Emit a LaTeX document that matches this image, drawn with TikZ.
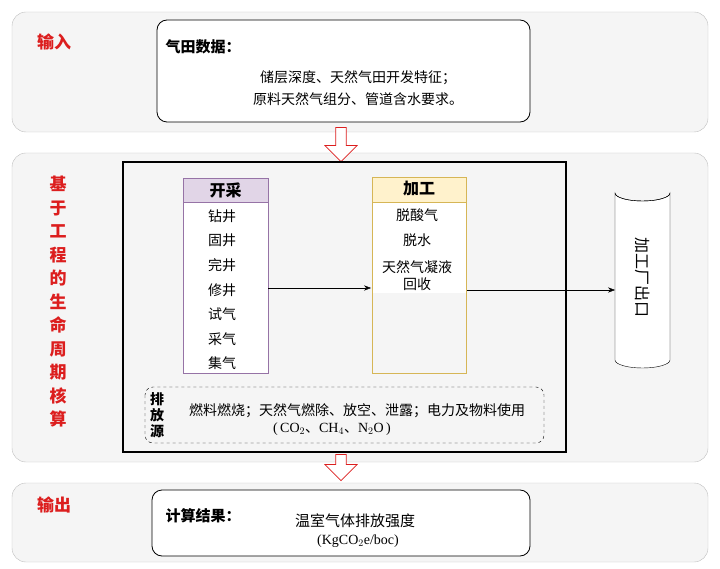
\documentclass[tikz,border=0pt]{standalone}
\usepackage{fontspec}
\setmainfont{Noto Sans CJK SC}
\newfontfamily\serifnum{Liberation Serif}
\newfontfamily\cjk{Noto Sans CJK SC}
\usetikzlibrary{shapes.geometric,shapes.arrows,arrows.meta}
\definecolor{bandgray}{RGB}{245,245,245}
\definecolor{bandline}{RGB}{190,190,190}
\definecolor{minefill}{RGB}{225,213,231}
\definecolor{mineline}{RGB}{150,115,166}
\definecolor{procfill}{RGB}{255,242,204}
\definecolor{procline}{RGB}{214,182,86}
\definecolor{titlered}{RGB}{220,30,30}
\begin{document}
\begin{tikzpicture}[x=1pt,y=-1pt,
  band/.style={draw=bandline, fill=bandgray, rounded corners=14pt},
  card/.style={draw=black, fill=white, rounded corners=10pt, thick},
  redtitle/.style={text=titlered, font=\bfseries\fontsize{17}{19}\selectfont},
  item/.style={font=\fontsize{14}{16}\selectfont},
  downarrow/.style={single arrow, draw=titlered, fill=white, thick, shape border rotate=270,
    minimum width=32pt, single arrow head extend=5pt, single arrow tip angle=90, inner sep=2pt}]
\useasboundingbox (0,0) rectangle (720,569);

% Bands
\draw[band] (12,12) rectangle (708,132);
\draw[band] (12,153) rectangle (708,462);
\draw[band] (12,483) rectangle (708,562);
\node[redtitle] (intitle) at (54,42) {输入};
\node[redtitle] (outtitle) at (54,505) {输出};
\node[redtitle, align=center, font=\bfseries\fontsize{17}{23.5}\selectfont] (lcatitle) at (58,302)
  {基\\于\\工\\程\\的\\生\\命\\周\\期\\核\\算};

% Input
\draw[card] (157,20) rectangle (530,122);
\node[font=\bfseries\fontsize{15}{17}\selectfont, anchor=west] (gastitle) at (162,47) {气田数据：};
\node[item, align=center, font=\fontsize{14}{22}\selectfont] (gasdata) at (358,88) {储层深度、天然气田开发特征；\\原料天然气组分、管道含水要求。};

% Arrows between bands
\node[downarrow, minimum height=34pt] (arrowa) at (341,142) {};
\node[downarrow, minimum height=26pt] (arrowb) at (341,465) {};

% Core box
\draw[very thick] (123,162) rectangle (566,452);

% Mining
\draw[draw=mineline, fill=white] (183,178) rectangle (268,373);
\draw[draw=mineline, fill=minefill] (183,178) rectangle (268,202);
\node[font=\bfseries\fontsize{16}{18}\selectfont] (minetitle) at (225.5,190) {开采};
\foreach \t [count=\i] in {钻井,固井,完井,修井,试气,采气,集气}
  \node[item] (mine\i) at (222,216+24.6*\i-24.6) {\t};

% Processing
\draw[draw=procline, fill=bandgray] (372,177) rectangle (466,373);
\fill[white] (372.5,202) rectangle (465.5,293);
\draw[draw=procline, fill=procfill] (372,177) rectangle (466,202);
\node[font=\bfseries\fontsize{16}{18}\selectfont] (proctitle) at (419,189) {加工};
\node[item] (proc1) at (417,215) {脱酸气};
\node[item] (proc2) at (417,240) {脱水};
\node[item, align=center, font=\fontsize{14}{17}\selectfont] (proc3) at (417,276) {天然气凝液\\回收};

\coordinate (minee) at (268,288);
\coordinate (procw) at (371,288);
\coordinate (proce) at (467,290);
\draw[-{Stealth[length=7pt]}] (minee) -- (procw);

% Plant outlet
\draw[fill=white] (615,193) -- (615,360) arc[start angle=180, end angle=360, x radius=27.5, y radius=-8]
  -- (670,193) arc[start angle=0, end angle=-180, x radius=27.5, y radius=-8] -- cycle;
\draw (615,193) arc[start angle=180, end angle=360, x radius=27.5, y radius=-8];
\coordinate (outletw) at (615,290);
\node[rotate=-90, font=\fontsize{16}{18}\selectfont] (outlet) at (642.5,278) {加工厂出口};
\draw[-{Stealth[length=7pt]}] (proce) -- (outletw);

% Emission sources
\draw[dashed, rounded corners=8pt] (145,387) rectangle (544,443);
\node[align=center, font=\bfseries\fontsize{14}{16}\selectfont] (srctitle) at (157,415) {排\\放\\源};
\node[item] (srcline) at (357,411) {燃料燃烧；天然气燃除、放空、泄露；电力及物料使用};
\node[font=\serifnum\fontsize{14}{16}\selectfont] (srcgas) at (332,429) {(\,CO$_2${\cjk 、}CH$_4${\cjk 、}N$_2$O\,)};

% Output
\draw[card] (152,490) rectangle (530,556);
\node[font=\bfseries\fontsize{15}{17}\selectfont, anchor=west] (restitle) at (162,516) {计算结果：};
\node[item, font=\fontsize{15}{17}\selectfont] (result) at (355,521) {温室气体排放强度};
\node[font=\serifnum\fontsize{14}{16}\selectfont] (resunit) at (358,541) {(KgCO$_2$e/boc)};
\end{tikzpicture}
\end{document}
